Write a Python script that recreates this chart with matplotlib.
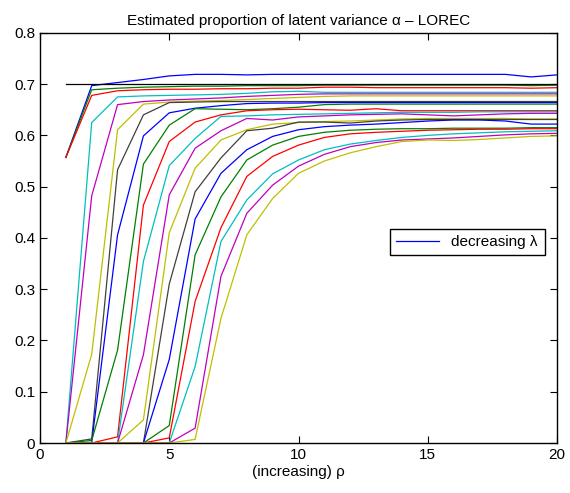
import numpy as np
import matplotlib
matplotlib.use('Agg')
import matplotlib.pyplot as plt

plt.rcParams['font.family'] = ['Liberation Sans', 'DejaVu Sans']

rho = np.arange(1, 21)
reference = [0.7] * 20

# alpha estimates, one curve per lambda (decreasing)
alpha_01 = [0.557, 0.697, 0.703, 0.709, 0.716, 0.719, 0.719, 0.718, 0.719, 0.719, 0.719, 0.719, 0.719, 0.719, 0.719, 0.719, 0.719, 0.719, 0.714, 0.718]
alpha_02 = [0.557, 0.689, 0.692, 0.694, 0.695, 0.696, 0.696, 0.697, 0.697, 0.697, 0.698, 0.698, 0.698, 0.698, 0.698, 0.698, 0.698, 0.698, 0.697, 0.698]
alpha_03 = [0.557, 0.678, 0.687, 0.689, 0.690, 0.690, 0.691, 0.691, 0.692, 0.692, 0.694, 0.694, 0.693, 0.693, 0.693, 0.693, 0.693, 0.693, 0.692, 0.693]
alpha_04 = [0.0, 0.625, 0.675, 0.677, 0.678, 0.679, 0.680, 0.682, 0.685, 0.686, 0.684, 0.684, 0.684, 0.684, 0.684, 0.684, 0.684, 0.684, 0.684, 0.684]
alpha_05 = [0.0, 0.482, 0.660, 0.666, 0.669, 0.671, 0.673, 0.676, 0.678, 0.680, 0.681, 0.681, 0.681, 0.681, 0.681, 0.681, 0.681, 0.681, 0.681, 0.681]
alpha_06 = [0.0, 0.173, 0.611, 0.661, 0.665, 0.667, 0.668, 0.670, 0.672, 0.674, 0.676, 0.677, 0.677, 0.677, 0.677, 0.677, 0.677, 0.677, 0.677, 0.677]
alpha_07 = [0.0, 0.008, 0.533, 0.640, 0.664, 0.665, 0.666, 0.666, 0.666, 0.666, 0.666, 0.666, 0.666, 0.666, 0.666, 0.666, 0.666, 0.666, 0.666, 0.666]
alpha_08 = [0.0, 0.001, 0.406, 0.599, 0.644, 0.653, 0.658, 0.662, 0.663, 0.663, 0.664, 0.664, 0.664, 0.664, 0.664, 0.664, 0.664, 0.664, 0.664, 0.664]
alpha_09 = [0.0, 0.005, 0.181, 0.544, 0.620, 0.652, 0.651, 0.650, 0.652, 0.655, 0.660, 0.661, 0.661, 0.661, 0.661, 0.661, 0.661, 0.661, 0.661, 0.661]
alpha_10 = [0.0, 0.0, 0.012, 0.464, 0.588, 0.626, 0.640, 0.648, 0.650, 0.651, 0.650, 0.649, 0.652, 0.648, 0.648, 0.648, 0.648, 0.648, 0.648, 0.648]
alpha_11 = [0.0, 0.0, 0.0, 0.354, 0.541, 0.594, 0.637, 0.638, 0.640, 0.641, 0.642, 0.643, 0.644, 0.645, 0.645, 0.645, 0.646, 0.646, 0.646, 0.646]
alpha_12 = [0.0, 0.0, 0.0, 0.172, 0.484, 0.575, 0.609, 0.633, 0.630, 0.636, 0.638, 0.640, 0.641, 0.642, 0.640, 0.638, 0.640, 0.642, 0.643, 0.643]
alpha_13 = [0.0, 0.0, 0.0, 0.045, 0.410, 0.536, 0.591, 0.611, 0.622, 0.625, 0.627, 0.628, 0.630, 0.632, 0.633, 0.633, 0.633, 0.633, 0.632, 0.632]
alpha_14 = [0.0, 0.0, 0.0, 0.0, 0.310, 0.490, 0.556, 0.609, 0.614, 0.626, 0.626, 0.624, 0.628, 0.630, 0.631, 0.631, 0.631, 0.631, 0.631, 0.631]
alpha_15 = [0.0, 0.0, 0.0, 0.0, 0.163, 0.437, 0.526, 0.572, 0.598, 0.611, 0.617, 0.620, 0.622, 0.625, 0.628, 0.630, 0.630, 0.628, 0.622, 0.622]
alpha_16 = [0.0, 0.0, 0.0, 0.0, 0.034, 0.367, 0.480, 0.552, 0.581, 0.598, 0.606, 0.610, 0.612, 0.613, 0.613, 0.614, 0.614, 0.614, 0.615, 0.615]
alpha_17 = [0.0, 0.0, 0.0, 0.0, 0.010, 0.276, 0.420, 0.520, 0.559, 0.581, 0.596, 0.603, 0.606, 0.608, 0.610, 0.611, 0.612, 0.612, 0.613, 0.613]
alpha_18 = [0.0, 0.0, 0.0, 0.0, 0.0, 0.149, 0.393, 0.474, 0.525, 0.552, 0.572, 0.583, 0.590, 0.596, 0.600, 0.603, 0.605, 0.607, 0.608, 0.609]
alpha_19 = [0.0, 0.0, 0.0, 0.0, 0.0, 0.029, 0.325, 0.448, 0.503, 0.540, 0.563, 0.578, 0.586, 0.591, 0.593, 0.595, 0.598, 0.601, 0.603, 0.604]
alpha_20 = [0.0, 0.0, 0.0, 0.0, 0.0, 0.007, 0.243, 0.406, 0.477, 0.526, 0.550, 0.566, 0.578, 0.588, 0.591, 0.590, 0.592, 0.595, 0.598, 0.599]

curves = [alpha_01, alpha_02, alpha_03, alpha_04, alpha_05, alpha_06, alpha_07,
          alpha_08, alpha_09, alpha_10, alpha_11, alpha_12, alpha_13, alpha_14,
          alpha_15, alpha_16, alpha_17, alpha_18, alpha_19, alpha_20]

# matlab default line colours
colors = [(0, 0, 1), (0, 0.5, 0), (1, 0, 0), (0, 0.75, 0.75),
          (0.75, 0, 0.75), (0.75, 0.75, 0), (0.25, 0.25, 0.25)]

fig = plt.figure(figsize=(5.7, 4.93), dpi=100)
ax = fig.add_axes([0.0702, 0.1014, 0.907, 0.832])

for i, c in enumerate(curves):
    ax.plot(rho, c, color=colors[i % 7], lw=0.9,
            label='decreasing \u03bb' if i == 0 else None)
ax.plot(rho, reference, color='k', lw=0.9)

ax.set_xlim(0, 20)
ax.set_ylim(0, 0.8)
ax.set_xticks([0, 5, 10, 15, 20])
ax.set_yticks(np.arange(0, 0.81, 0.1))
ax.set_yticklabels(['0', '0.1', '0.2', '0.3', '0.4', '0.5', '0.6', '0.7', '0.8'])
ax.tick_params(direction='in', top=True, right=True, labelsize=11, length=5)
for s in ax.spines.values():
    s.set_linewidth(1.0)
ax.set_xlabel('(increasing) \u03c1', fontsize=11, labelpad=2)
ax.set_title('Estimated proportion of latent variance \u03b1 \u2013 LOREC', fontsize=11, pad=6)

ax.legend(loc='lower left', bbox_to_anchor=(0.677, 0.458, 0.3, 0.07), mode='expand',
          fontsize=11, frameon=True, fancybox=False, edgecolor='k', framealpha=1,
          handlelength=2.8, borderaxespad=0)

fig.savefig('out.png', dpi=100)
